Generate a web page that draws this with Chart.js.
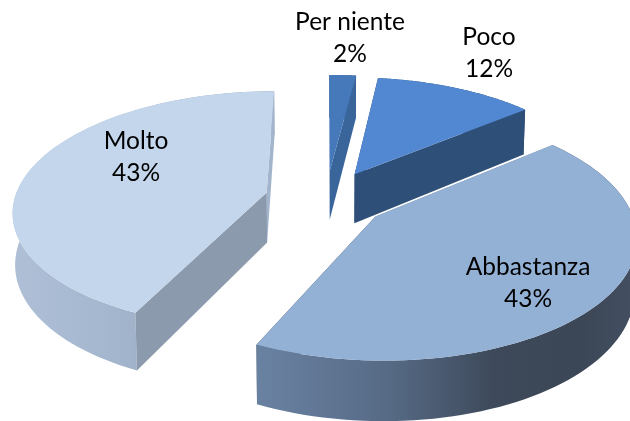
<!DOCTYPE html>
<html><head><meta charset="utf-8">
<style>html,body{margin:0;padding:0;background:#fff}canvas{display:block}</style>
<script src="https://cdn.jsdelivr.net/npm/chart.js@4"></script>
</head><body><canvas id="c" width="630" height="421"></canvas>
<script>
const categories = ['Per niente','Poco','Abbastanza','Molto'];
const values = [2,12,43,43];
const percentLabels = ['2%','12%','43%','43%'];

// view / projection settings (not data)
const VIEW = {gx:326, gy:198.6, rx:252, ry:117.5, k:0.145, explode:0.243, depth:50.5, shrink:0.992};
const drawOrder = [0,1,3,2];
const STYLE = [
 {top:'#4679b9', start:'#39659a', end:'#39659a', outer:[[0,'#39659a'],[1,'#39659a']], text:[350,22], wallsInFront:true},
 {top:'#5287d1', start:'#2e4f78', end:'#2e4f78', outer:[[0,'#2e4f78'],[1,'#2e4f78']], text:[489,37], wallsInFront:true},
 {top:'#93b0d5', start:'#667c9a', end:'#3b4656', outer:[[0,'#6a82a2'],[0.35,'#566a85'],[0.62,'#3e4a5b'],[0.85,'#3b4656'],[1,'#445062']], text:[528,267], wallsInFront:false},
 {top:'#c3d6ec', start:'#8b9aac', end:'#a3b5cd', outer:[[0,'#aebfd6'],[0.35,'#a5b7cf'],[1,'#8d9cb0']], text:[136,141], wallsInFront:true}
];

function project(U,V,down){
  const w = 1 + VIEW.k*V;
  let x = VIEW.gx + VIEW.rx*U/w;
  let y = VIEW.gy - VIEW.ry*V/w;
  if(down){ y += VIEW.depth/w; x = VIEW.gx + (x-VIEW.gx)*VIEW.shrink; }
  return [x,y];
}
function poly(ctx,pts,fill){
  ctx.beginPath();
  pts.forEach((p,i)=> i?ctx.lineTo(p[0],p[1]):ctx.moveTo(p[0],p[1]));
  ctx.closePath();
  ctx.fillStyle=fill; ctx.fill();
}
const pie3d = {
  id:'pie3d',
  beforeDatasetsDraw(chart){
    const ctx = chart.ctx, arcs = chart.getDatasetMeta(0).data;
    ctx.save();
    drawOrder.forEach(i=>{
      const a0 = arcs[i].startAngle + Math.PI/2, a1 = arcs[i].endAngle + Math.PI/2;
      const mid = (a0+a1)/2, s = STYLE[i];
      const ox = VIEW.explode*Math.sin(mid), oy = VIEW.explode*Math.cos(mid);
      const rim = (down)=>{ const out=[]; const n=80;
        for(let j=0;j<=n;j++){ const a=a0+(a1-a0)*j/n;
          out.push(project(ox+Math.sin(a),oy+Math.cos(a),down)); }
        return out; };
      const topRim = rim(false), botRim = rim(true);
      const T = project(ox,oy,false), Tb = project(ox,oy,true);
      const walls = ()=>{
        poly(ctx,[T,topRim[topRim.length-1],botRim[botRim.length-1],Tb],s.end);
        poly(ctx,[T,topRim[0],botRim[0],Tb],s.start);
      };
      if(!s.wallsInFront) walls();
      const xs = topRim.concat(botRim).map(p=>p[0]);
      const minX=Math.min(...xs), maxX=Math.max(...xs);
      const g = ctx.createLinearGradient(minX,0,maxX,0);
      s.outer.forEach(st=>g.addColorStop(st[0],st[1]));
      poly(ctx, topRim.concat(botRim.slice().reverse()), g);
      if(s.wallsInFront) walls();
      poly(ctx,[T].concat(topRim),s.top);
    });
    ctx.restore();
    return false;
  },
  afterDraw(chart){
    const ctx = chart.ctx;
    ctx.save();
    ctx.fillStyle='#000';
    ctx.font='24.5px Lato, "Open Sans", sans-serif';
    ctx.textAlign='center'; ctx.textBaseline='middle';
    categories.forEach((c,i)=>{
      const [x,y]=STYLE[i].text;
      ctx.fillText(c,x,y);
      ctx.fillText(percentLabels[i],x,y+32);
    });
    ctx.restore();
  }
};
new Chart(document.getElementById('c'),{
  type:'pie',
  data:{labels:categories,datasets:[{data:values,backgroundColor:STYLE.map(s=>s.top),borderWidth:0}]},
  options:{responsive:false,animation:false,events:[],
    plugins:{legend:{display:false},tooltip:{enabled:false}}},
  plugins:[pie3d]
});
</script></body></html>
